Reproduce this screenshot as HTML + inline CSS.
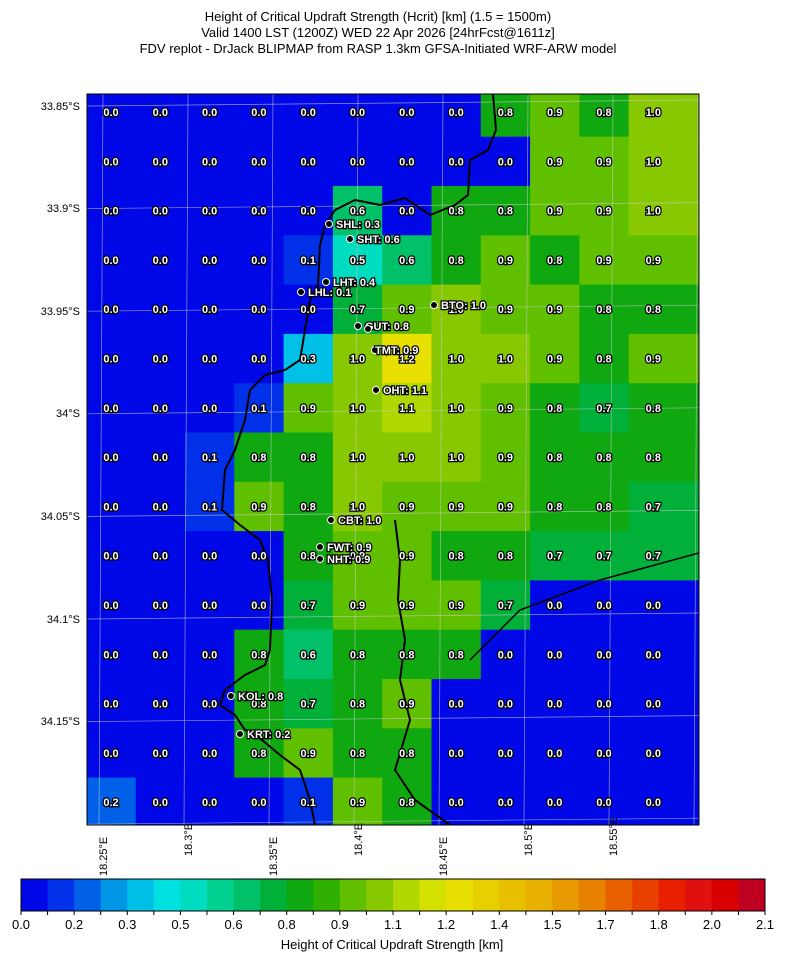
<!DOCTYPE html>
<html><head><meta charset="utf-8"><style>
body{margin:0;background:#fff;font-family:"Liberation Sans",sans-serif}
svg text{font-family:"Liberation Sans",sans-serif}
.v{font-size:11px;font-weight:bold;fill:#fff;stroke:#000;stroke-width:2.5px;paint-order:stroke;text-anchor:middle}
.s{font-size:11px;font-weight:bold;fill:#fff;stroke:#000;stroke-width:2.5px;paint-order:stroke}
.ax{font-size:11px;fill:#000}
</style></head><body>
<svg width="785" height="962" xmlns="http://www.w3.org/2000/svg">
<text x="378" y="21" text-anchor="middle" font-size="13">Height of Critical Updraft Strength (Hcrit) [km] (1.5 = 1500m)</text>
<text x="378" y="37" text-anchor="middle" font-size="13">Valid 1400 LST (1200Z) WED 22 Apr 2026 [24hrFcst@1611z]</text>
<text x="378" y="53" text-anchor="middle" font-size="13">FDV replot - DrJack BLIPMAP from RASP 1.3km GFSA-Initiated WRF-ARW model</text>
<defs><clipPath id="c"><rect x="87" y="94" width="612" height="731"/></clipPath></defs>
<g id="map" clip-path="url(#c)"></g>
<rect x="87" y="94" width="612" height="731" fill="none" stroke="#000"/>
<g id="lbl"></g>
<g class="ax" text-anchor="end">
<text x="80" y="110">33.85°S</text><text x="80" y="212">33.9°S</text><text x="80" y="315">33.95°S</text><text x="80" y="417">34°S</text><text x="80" y="520">34.05°S</text><text x="80" y="623">34.1°S</text><text x="80" y="725">34.15°S</text>
</g>
<g class="ax">
<text transform="translate(107,876) rotate(-90)">18.25°E</text>
<text transform="translate(192,856) rotate(-90)">18.3°E</text>
<text transform="translate(277,876) rotate(-90)">18.35°E</text>
<text transform="translate(362,856) rotate(-90)">18.4°E</text>
<text transform="translate(447,876) rotate(-90)">18.45°E</text>
<text transform="translate(532,856) rotate(-90)">18.5°E</text>
<text transform="translate(617,856) rotate(-90)">18.55°E</text>
</g>
<g id="cb"></g>
<text x="392" y="949" text-anchor="middle" font-size="13">Height of Critical Updraft Strength [km]</text>
</svg>
<script>
const C=["#0008e8","#0030e8","#0060e8","#0096e6","#00c0e8","#00e0e0","#00dcc0","#00d090","#00c068","#00b038","#10a810","#30b000","#60c000","#88c800","#b0d800","#d4e000","#e8e000","#e8d000","#e8c000","#e8b000","#e89800","#e88000","#e86000","#e84000","#e82000","#e01010","#d80000","#c00020"];
const D=[[0,0,0,0,0,0,0,0,.8,.9,.8,1],[0,0,0,0,0,0,0,0,0,.9,.9,1],[0,0,0,0,0,.6,0,.8,.8,.9,.9,1],[0,0,0,0,.1,.5,.6,.8,.9,.8,.9,.9],[0,0,0,0,0,.7,.9,1,.9,.9,.8,.8],[0,0,0,0,.3,1,1.2,1,1,.9,.8,.9],[0,0,0,.1,.9,1,1.1,1,.9,.8,.7,.8],[0,0,.1,.8,.8,1,1,1,.9,.8,.8,.8],[0,0,.1,.9,.8,1,.9,.9,.9,.8,.8,.7],[0,0,0,0,.8,.9,.9,.8,.8,.7,.7,.7],[0,0,0,0,.7,.9,.9,.9,.7,0,0,0],[0,0,0,.8,.6,.8,.8,.8,0,0,0,0],[0,0,0,.8,.7,.8,.9,0,0,0,0,0],[0,0,0,.8,.9,.8,.8,0,0,0,0,0],[.2,0,0,0,.1,.9,.8,0,0,0,0,0]];
let m='',l='';const W=49.3;
D.forEach((r,j)=>r.forEach((v,i)=>{let k=Math.min(27,Math.floor(v/0.075+1e-6));let w=(i==11)?80:W+0.5;
m+=`<rect x="${86.4+i*W}" y="${87.4+j*W}" width="${w}" height="${W+0.5}" fill="${C[k]}"/>`;
l+=`<text class="v" x="${111+i*W}" y="${116+j*W}">${v.toFixed(1)}</text>`;}));
for(let i=0;i<8;i++){m+=`<line x1="${103+i*85}" y1="94" x2="${99+i*85}" y2="825" stroke="#ccc" stroke-width="0.7" opacity="0.7"/>`}
for(let j=0;j<8;j++){let y=106+j*102.6;m+=`<line x1="87" y1="${y}" x2="699" y2="${y-6}" stroke="#ccc" stroke-width="0.7" opacity="0.7"/>`}
m+=`<polyline fill="none" stroke="#000" stroke-width="2" points="493,94 496,130 488,150 470,160 468,195 455,205 430,215 405,198 380,205 355,200 335,210 325,225 320,245 318,285 310,300 305,330 300,360 285,370 265,375 250,390 245,420 235,450 225,470 222,510 240,525 260,540 268,560 272,600 270,650 265,665 245,675 225,690 220,705 235,715 245,730 262,740 280,755 300,770 310,800 315,825"/>`;
m+=`<polyline fill="none" stroke="#000" stroke-width="2" points="395,520 400,560 398,600 405,640 400,680 410,720 395,770 415,800 450,825"/>`;
m+=`<polyline fill="none" stroke="#000" stroke-width="1.5" points="470,660 520,610 600,580 699,553"/>`;
document.getElementById('map').innerHTML=m;
const S=[[329,224,"SHL: 0.3"],[350,239,"SHT: 0.6"],[326,282,"LHT: 0.4"],[301,292,"LHL: 0.1"],[434,305,"BTO: 1.0"],[358,326,"GUT: 0.8"],[368,329,""],[375,350,"TMT: 0.9"],[376,390,"OHT: 1.1"],[331,520,"CBT: 1.0"],[320,547,"FWT: 0.9"],[320,559,"NHT: 0.9"],[231,696,"KOL: 0.8"],[240,734,"KRT: 0.2"]];
S.forEach(s=>{l+=`<circle cx="${s[0]}" cy="${s[1]}" r="3.5" fill="#000" stroke="#fff" stroke-width="1"/>`;if(s[2]){let dy=s[2]=="TMT: 0.9"?0:0;let x=s[2]=="TMT: 0.9"?s[0]:s[0]+7;l+=`<text class="s" x="${x}" y="${s[1]+4}">${s[2]}</text>`}});
document.getElementById('lbl').innerHTML=l;
let cb='';const cw=744/28;C.forEach((c,i)=>cb+=`<rect x="${21+i*cw}" y="879" width="${cw+0.4}" height="32" fill="${c}"/>`);
cb+=`<rect x="21" y="879" width="744" height="32" fill="none" stroke="#000"/>`;
const L=["0.0","0.2","0.3","0.5","0.6","0.8","0.9","1.1","1.2","1.4","1.5","1.7","1.8","2.0","2.1"];
for(let i=0;i<=28;i++){cb+=`<line x1="${21+i*cw}" y1="911" x2="${21+i*cw}" y2="915" stroke="#000"/>`}
L.forEach((t,i)=>cb+=`<text x="${21+i*2*cw}" y="929" text-anchor="middle" font-size="13">${t}</text>`);
document.getElementById('cb').innerHTML=cb;
</script>
</body></html>
